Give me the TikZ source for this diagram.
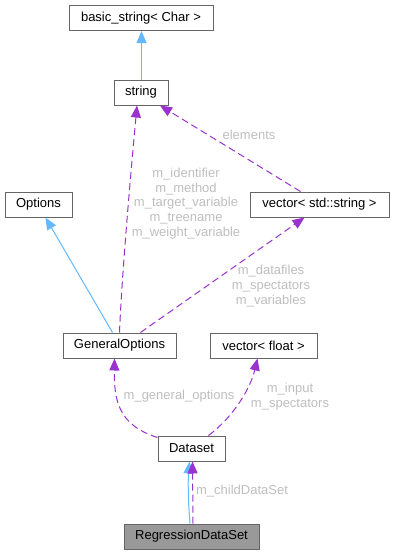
\documentclass[tikz,border=0pt]{standalone}
\usepackage{fontspec}
\setmainfont{Liberation Sans}
\usetikzlibrary{arrows.meta,calc}
\definecolor{inhblue}{HTML}{63B8FF}
\definecolor{usepurple}{HTML}{9A32CD}
\definecolor{boxgray}{HTML}{666666}
\definecolor{lblgray}{HTML}{BEBEBE}
\definecolor{fillgray}{HTML}{999999}
\tikzset{
  cls/.style={draw=boxgray, line width=1pt, fill=white, minimum height=25pt, inner sep=0pt, font=\fontsize{13}{15}\selectfont, text=black},
  inh/.style={draw=inhblue, line width=1pt, -{Triangle[length=12pt,width=10pt,fill=inhblue]}},
  comp/.style={draw=usepurple, line width=1pt, dash pattern=on 7pt off 4pt, -{Triangle[length=12pt,width=10pt,fill=usepurple]}},
  lbl/.style={text=lblgray, font=\fontsize{13}{14.6}\selectfont, align=center, inner sep=0pt}
}
\begin{document}
\begin{tikzpicture}[x=1pt,y=-1pt]
\useasboundingbox (0,0) rectangle (395,555);
\node[cls, minimum width=144pt] (basic) at (141,18) {basic\_string< Char >};
\node[cls, minimum width=54pt] (string) at (141,92.5) {string};
\node[cls, minimum width=67pt] (opt) at (38.5,204.5) {Options};
\node[cls, minimum width=139pt] (vecstr) at (319.5,204.5) {vector< std::string >};
\node[cls, minimum width=113pt] (go) at (119.5,345.5) {GeneralOptions};
\node[cls, minimum width=107pt] (vecf) at (263.5,345.5) {vector< float >};
\node[cls, minimum width=67pt] (ds) at (191.5,448.5) {Dataset};
\node[cls, minimum width=135pt, fill=fillgray] (reg) at (191.5,536.5) {RegressionDataSet};

\draw[inh] ($(string.north)+(0.5,0)$) -- ($(basic.south)+(0.5,0)$);
\draw[inh] ($(go.north)+(-7,0)$) -- ($(opt.south)+(7,0)$);
\draw[comp] (go.north) .. controls (122,270) and (132,160) .. ($(string.south)+(-4,0)$);
\draw[comp] ($(vecstr.north)+(-19,0)$) -- ($(string.south)+(19,0)$);
\draw[comp] ($(go.north)+(21,0)$) -- ($(vecstr.south)+(-15,0)$);
\draw[comp] ($(ds.north west)+(0,2)$) .. controls (118,425) and (114,400) .. ($(go.south)+(-5,0)$);
\draw[comp] ($(ds.north)+(17,0)$) .. controls (232,418) and (250,390) .. ($(vecf.south)+(-6,0)$);
\draw[inh] ($(reg.north)+(-1.5,0)$) .. controls (188,500) and (188,480) .. ($(ds.south)+(-2,0)$);
\draw[comp] ($(reg.north)+(1.5,0)$) -- ($(ds.south)+(1,0)$);

\node[lbl] (l1) at (249,135) {elements};
\node[lbl] (l2) at (186,203.5) {m\_identifier\\m\_method\\m\_target\_variable\\m\_treename\\m\_weight\_variable};
\node[lbl] (l3) at (271,286) {m\_datafiles\\m\_spectators\\m\_variables};
\node[lbl] (l4) at (179,396) {m\_general\_options};
\node[lbl] (l5) at (290,396.5) {m\_input\\m\_spectators};
\node[lbl] (l6) at (242,491) {m\_childDataSet};
\end{tikzpicture}
\end{document}
